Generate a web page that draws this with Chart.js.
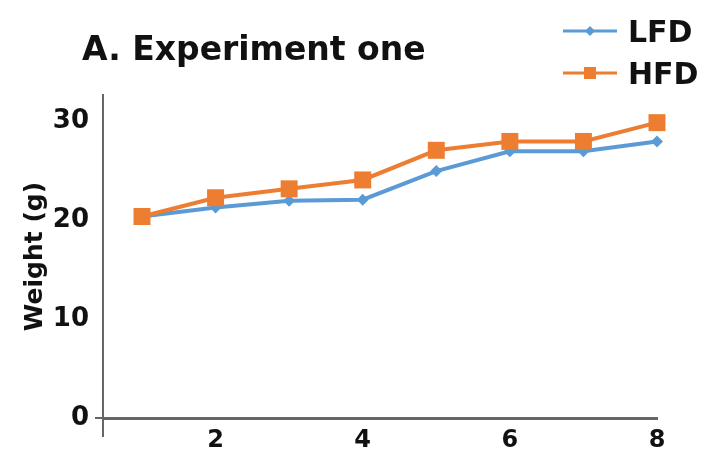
<!DOCTYPE html>
<html lang="en">
<head>
    <meta charset="UTF-8">
    <title>A. Experiment one</title>
    <style>
        body {
            margin: 0;
            background-color: #ffffff;
        }
    </style>
    <script src="https://cdn.jsdelivr.net/npm/chart.js"></script>
</head>
<body>
    <canvas id="weightChart" width="708" height="453"></canvas>

    <script>
    // values
    const weeks = [1, 2, 3, 4, 5, 6, 7, 8];
    const lfdWeight = [20.4, 21.3, 22.0, 22.1, 25.0, 27.0, 27.0, 28.0];
    const hfdWeight = [20.4, 22.3, 23.2, 24.1, 27.1, 28.0, 28.0, 29.9];
    const xTicks = [2, 4, 6, 8];
    const yTicks = [0, 10, 20, 30];

    const blue = '#5b9bd5';
    const orange = '#ed7d31';
    const axisGray = '#666666';
    const font = 'DejaVu Sans';

    function toPoints(values) {
        return weeks.map((w, i) => ({ x: w, y: values[i] }));
    }

    // title, legend and the little axis overhangs
    const decorPlugin = {
        id: 'decor',
        afterDraw(chart) {
            const ctx = chart.ctx;
            const area = chart.chartArea;
            ctx.save();

            ctx.fillStyle = '#111';
            ctx.font = 'bold 33px "' + font + '"';
            ctx.textBaseline = 'alphabetic';
            ctx.fillText('A. Experiment one', 82, 60);

            // axis overhang below and left of the origin
            ctx.strokeStyle = axisGray;
            ctx.lineWidth = 2;
            ctx.beginPath();
            ctx.moveTo(area.left, area.bottom);
            ctx.lineTo(area.left, area.bottom + 19);
            ctx.moveTo(area.left - 8, area.bottom);
            ctx.lineTo(area.left, area.bottom);
            ctx.stroke();

            // legend
            const entries = [
                { label: 'LFD', color: blue, y: 31, shape: 'diamond' },
                { label: 'HFD', color: orange, y: 73, shape: 'square' }
            ];
            entries.forEach(e => {
                ctx.strokeStyle = e.color;
                ctx.lineWidth = 3;
                ctx.beginPath();
                ctx.moveTo(563, e.y);
                ctx.lineTo(617, e.y);
                ctx.stroke();
                ctx.fillStyle = e.color;
                ctx.beginPath();
                if (e.shape === 'diamond') {
                    ctx.moveTo(590, e.y - 5);
                    ctx.lineTo(595, e.y);
                    ctx.lineTo(590, e.y + 5);
                    ctx.lineTo(585, e.y);
                    ctx.closePath();
                } else {
                    ctx.rect(584, e.y - 6, 12, 12);
                }
                ctx.fill();
                ctx.fillStyle = '#111';
                ctx.font = 'bold 30px "' + font + '"';
                ctx.fillText(e.label, 628, e.y + 11);
            });

            ctx.restore();
        }
    };

    const ctx = document.getElementById('weightChart').getContext('2d');
    new Chart(ctx, {
        type: 'line',
        data: {
            datasets: [{
                label: 'LFD',
                data: toPoints(lfdWeight),
                borderColor: blue,
                backgroundColor: blue,
                borderWidth: 4,
                pointStyle: 'rectRot',
                pointRadius: 6,
                pointBorderWidth: 0,
                order: 2
            }, {
                label: 'HFD',
                data: toPoints(hfdWeight),
                borderColor: orange,
                backgroundColor: orange,
                borderWidth: 4,
                pointStyle: 'rect',
                pointRadius: 12,
                pointBorderWidth: 0,
                order: 1
            }]
        },
        options: {
            responsive: false,
            animation: false,
            clip: false,
            layout: {
                padding: { top: 95, right: 51, left: 0, bottom: 0 }
            },
            plugins: {
                legend: { display: false },
                tooltip: { enabled: false }
            },
            scales: {
                x: {
                    type: 'linear',
                    min: 0.47,
                    max: 8,
                    afterBuildTicks: scale => {
                        scale.ticks = xTicks.map(v => ({ value: v }));
                    },
                    afterFit: scale => {
                        scale.height = 35;
                    },
                    grid: { display: false },
                    border: { color: axisGray, width: 3 },
                    ticks: {
                        padding: 0,
                        color: '#111',
                        font: { family: font, weight: 'bold', size: 24 }
                    }
                },
                y: {
                    min: 0,
                    max: 32.7,
                    afterBuildTicks: scale => {
                        scale.ticks = yTicks.map(v => ({ value: v }));
                    },
                    afterFit: scale => {
                        scale.width = 103;
                    },
                    grid: { display: false },
                    border: { color: axisGray, width: 2 },
                    title: {
                        display: true,
                        text: 'Weight (g)',
                        color: '#111',
                        padding: { top: 20, bottom: 0 },
                        font: { family: font, weight: 'bold', size: 25 }
                    },
                    ticks: {
                        padding: 6,
                        color: '#111',
                        font: { family: font, weight: 'bold', size: 26 }
                    }
                }
            }
        },
        plugins: [decorPlugin]
    });
    </script>
</body>
</html>
